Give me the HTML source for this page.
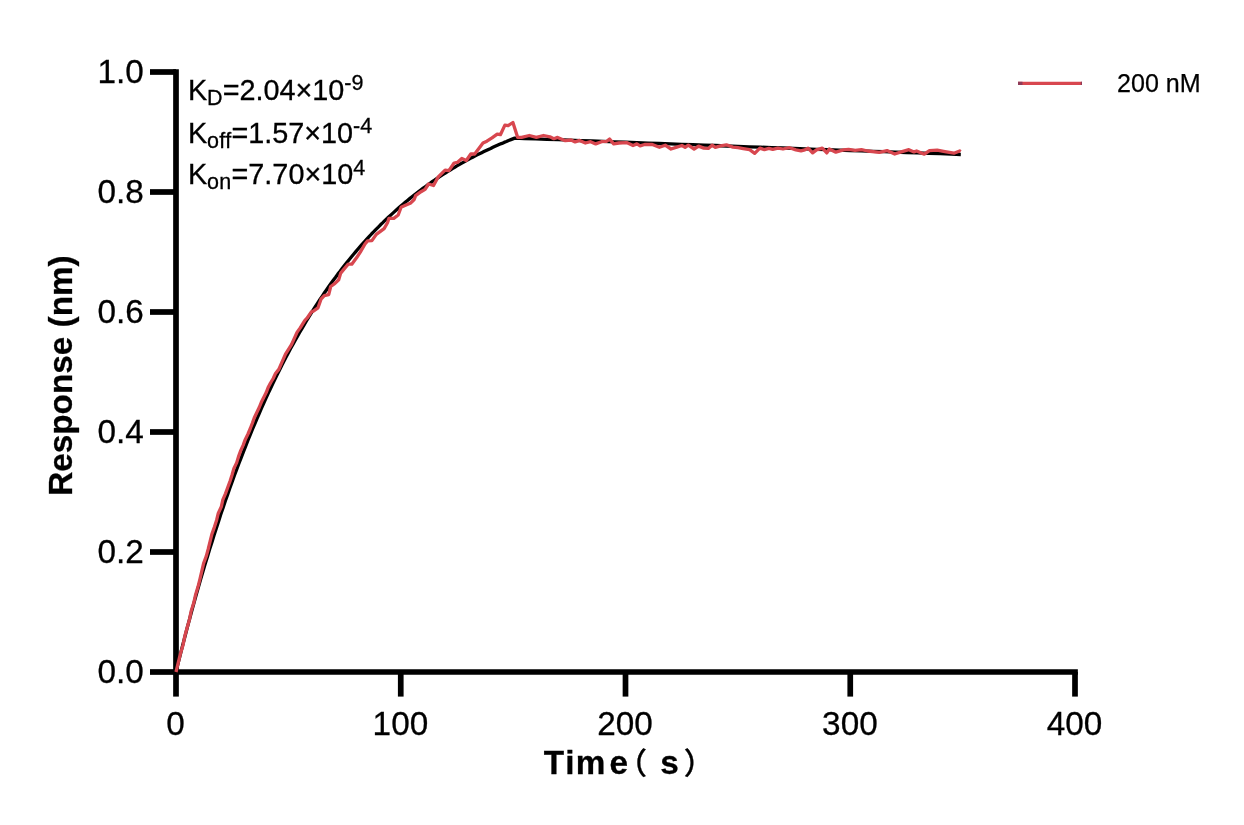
<!DOCTYPE html>
<html lang="en"><head><meta charset="utf-8"><title>Response vs Time</title>
<style>html,body{margin:0;padding:0;background:#fff}svg{display:block}</style></head>
<body>
<svg width="1244" height="825" viewBox="0 0 1244 825">
<rect width="1244" height="825" fill="#fff"/>
<g stroke="#000" stroke-width="5.70" fill="none" stroke-linecap="butt">
<path d="M176.00 69.15 V672.00 H1077.85"/>
<path d="M150 72.00 H176.00"/>
<path d="M150 192.00 H176.00"/>
<path d="M150 312.00 H176.00"/>
<path d="M150 432.00 H176.00"/>
<path d="M150 552.00 H176.00"/>
<path d="M150 672.00 H176.00"/>
<path d="M176.00 672.00 V696.6"/>
<path d="M400.75 672.00 V696.6"/>
<path d="M625.50 672.00 V696.6"/>
<path d="M850.25 672.00 V696.6"/>
<path d="M1075.00 672.00 V696.6"/>
</g>
<path d="M176.0 672.0 L178.2 662.9 L180.5 653.9 L182.7 645.1 L185.0 636.4 L187.2 627.8 L189.5 619.4 L191.7 611.1 L194.0 602.9 L196.2 594.8 L198.5 586.9 L200.7 579.1 L203.0 571.4 L205.2 563.9 L207.5 556.4 L209.7 549.1 L212.0 541.9 L214.2 534.8 L216.5 527.8 L218.7 520.9 L220.9 514.1 L223.2 507.4 L225.4 500.8 L227.7 494.4 L229.9 488.0 L232.2 481.7 L234.4 475.5 L236.7 469.5 L238.9 463.5 L241.2 457.6 L243.4 451.8 L245.7 446.1 L247.9 440.4 L250.2 434.9 L252.4 429.4 L254.7 424.1 L256.9 418.8 L259.2 413.6 L261.4 408.4 L263.7 403.4 L265.9 398.4 L268.1 393.5 L270.4 388.7 L272.6 384.0 L274.9 379.3 L277.1 374.7 L279.4 370.2 L281.6 365.7 L283.9 361.3 L286.1 357.0 L288.4 352.8 L290.6 348.6 L292.9 344.4 L295.1 340.4 L297.4 336.4 L299.6 332.5 L301.9 328.6 L304.1 324.8 L306.4 321.0 L308.6 317.3 L310.9 313.7 L313.1 310.1 L315.3 306.6 L317.6 303.1 L319.8 299.7 L322.1 296.3 L324.3 293.0 L326.6 289.7 L328.8 286.5 L331.1 283.3 L333.3 280.2 L335.6 277.2 L337.8 274.1 L340.1 271.2 L342.3 268.2 L344.6 265.3 L346.8 262.5 L349.1 259.7 L351.3 257.0 L353.6 254.3 L355.8 251.6 L358.0 249.0 L360.3 246.4 L362.5 243.8 L364.8 241.3 L367.0 238.9 L369.3 236.4 L371.5 234.0 L373.8 231.7 L376.0 229.4 L378.3 227.1 L380.5 224.8 L382.8 222.6 L385.0 220.4 L387.3 218.3 L389.5 216.2 L391.8 214.1 L394.0 212.1 L396.3 210.0 L398.5 208.1 L400.8 206.1 L403.0 204.2 L405.2 202.3 L407.5 200.4 L409.7 198.6 L412.0 196.8 L414.2 195.0 L416.5 193.2 L418.7 191.5 L421.0 189.8 L423.2 188.1 L425.5 186.5 L427.7 184.9 L430.0 183.3 L432.2 181.7 L434.5 180.2 L436.7 178.6 L439.0 177.1 L441.2 175.7 L443.5 174.2 L445.7 172.8 L447.9 171.4 L450.2 170.0 L452.4 168.6 L454.7 167.3 L456.9 165.9 L459.2 164.6 L461.4 163.4 L463.7 162.1 L465.9 160.9 L468.2 159.6 L470.4 158.4 L472.7 157.2 L474.9 156.1 L477.2 154.9 L479.4 153.8 L481.7 152.7 L483.9 151.6 L486.2 150.5 L488.4 149.4 L490.7 148.4 L492.9 147.3 L495.1 146.3 L497.4 145.3 L499.6 144.3 L501.9 143.4 L504.1 142.4 L506.4 141.5 L508.6 140.5 L510.9 139.6 L514.7 138.1 L524.4 138.5 L535.6 138.9 L546.8 139.3 L558.1 139.7 L569.3 140.1 L580.5 140.6 L591.8 141.0 L603.0 141.4 L614.3 141.8 L625.5 142.2 L636.7 142.6 L648.0 143.1 L659.2 143.5 L670.5 143.9 L681.7 144.3 L692.9 144.7 L704.2 145.1 L715.4 145.5 L726.6 146.0 L737.9 146.4 L749.1 146.8 L760.4 147.2 L771.6 147.6 L782.8 148.0 L794.1 148.4 L805.3 148.8 L816.5 149.3 L827.8 149.7 L839.0 150.1 L850.2 150.5 L861.5 150.9 L872.7 151.3 L884.0 151.7 L895.2 152.1 L906.4 152.5 L917.7 152.9 L928.9 153.3 L940.1 153.7 L951.4 154.2 L960.8 154.5" fill="none" stroke="#000" stroke-width="3.3" stroke-linejoin="round"/>
<path d="M176.0 672.0 L178.2 662.9 L180.4 653.9 L183.0 645.1 L184.8 636.3 L187.1 627.8 L189.5 619.4 L191.2 610.9 L193.8 602.8 L195.6 594.7 L198.0 586.8 L200.0 578.9 L201.8 571.1 L203.6 563.4 L206.3 556.1 L208.3 548.7 L210.1 541.3 L211.9 534.1 L214.4 527.1 L216.6 520.2 L218.3 513.2 L221.3 506.8 L222.8 499.9 L225.5 493.6 L227.8 487.3 L230.1 481.0 L232.1 474.7 L233.9 468.4 L236.7 462.6 L238.5 456.6 L240.7 450.7 L243.2 445.1 L245.3 439.4 L248.0 434.0 L250.3 428.5 L252.4 423.1 L254.3 417.7 L256.8 412.5 L259.2 407.5 L261.3 402.3 L263.7 397.4 L266.2 392.6 L268.1 387.6 L270.5 383.0 L273.2 378.5 L275.3 373.8 L278.8 369.4 L285.5 354.2 L291.5 344.6 L297.0 332.4 L300.2 327.9 L304.9 320.3 L307.0 318.2 L311.5 311.8 L313.0 311.4 L318.0 307.8 L321.0 299.2 L324.3 295.6 L328.7 294.7 L330.7 286.5 L335.0 283.4 L338.7 279.8 L340.7 273.1 L344.4 268.6 L348.2 264.2 L351.8 264.2 L356.7 257.6 L360.3 252.1 L365.0 244.0 L367.6 240.9 L371.9 240.6 L376.3 234.4 L384.1 228.6 L387.5 222.7 L388.9 218.4 L393.8 218.4 L398.2 215.0 L401.1 207.2 L405.4 205.3 L410.8 202.9 L414.2 199.5 L415.6 195.6 L421.0 191.7 L425.1 189.4 L428.5 184.0 L433.5 185.5 L438.0 177.2 L445.1 170.1 L448.9 170.7 L454.1 163.0 L457.3 162.4 L461.8 158.5 L466.3 160.5 L470.8 154.0 L474.7 154.0 L483.0 143.1 L486.9 141.2 L492.0 137.9 L497.2 134.1 L500.4 134.7 L504.9 125.1 L508.1 125.7 L512.9 122.5 L517.7 137.4 L521.6 137.4 L529.3 135.5 L536.4 137.4 L543.5 135.5 L549.9 136.8 L553.8 138.7 L557.6 137.4 L565.3 140.7 L571.1 140.0 L575.1 141.9 L579.6 140.4 L585.4 143.0 L590.6 141.7 L595.7 143.9 L601.5 141.7 L606.7 141.3 L609.6 139.1 L613.7 143.9 L618.9 143.0 L626.6 142.6 L633.0 145.5 L636.9 143.9 L640.1 145.8 L644.6 144.5 L652.3 144.5 L659.4 147.3 L665.2 145.2 L671.0 149.0 L676.8 147.1 L681.9 145.5 L685.1 147.3 L688.3 145.2 L694.1 149.0 L698.6 146.1 L703.8 148.1 L708.3 148.4 L712.1 145.2 L715.3 147.3 L720.5 145.8 L726.4 144.8 L732.9 147.1 L738.0 147.7 L743.2 148.6 L749.6 149.7 L754.7 153.3 L759.9 148.1 L764.4 149.7 L768.9 148.4 L772.7 149.4 L777.9 148.1 L783.0 149.0 L789.5 147.7 L795.9 149.9 L801.0 150.9 L804.9 149.9 L808.1 148.1 L812.6 152.9 L816.5 149.9 L822.3 148.1 L826.8 152.9 L829.3 149.0 L835.8 152.2 L843.5 149.9 L848.6 149.4 L855.0 150.3 L861.5 149.7 L867.7 151.0 L879.3 152.3 L887.0 150.6 L894.7 154.0 L901.2 151.9 L908.9 149.7 L914.0 151.9 L916.6 151.0 L924.3 154.2 L929.5 150.6 L937.2 150.1 L944.9 151.6 L953.9 153.2 L959.7 151.0 L960.7 151.6" fill="none" stroke="#d8474f" stroke-width="3.3" stroke-linejoin="round"/>
<g font-family="'Liberation Sans', sans-serif" font-size="33.3" fill="#000" stroke="#000" stroke-width="0.3">
<text x="143.9" y="82.5" text-anchor="end">1.0</text>
<text x="143.9" y="202.5" text-anchor="end">0.8</text>
<text x="143.9" y="322.5" text-anchor="end">0.6</text>
<text x="143.9" y="442.5" text-anchor="end">0.4</text>
<text x="143.9" y="562.5" text-anchor="end">0.2</text>
<text x="143.9" y="682.5" text-anchor="end">0.0</text>
<text x="175.6" y="734.6" text-anchor="middle">0</text>
<text x="400.4" y="734.6" text-anchor="middle">100</text>
<text x="625.1" y="734.6" text-anchor="middle">200</text>
<text x="849.9" y="734.6" text-anchor="middle">300</text>
<text x="1074.6" y="734.6" text-anchor="middle">400</text>
</g>
<g font-family="'Liberation Sans', sans-serif" fill="#000" stroke="#000" stroke-width="0.3">
<text x="187.9" y="99.6" font-size="28.8">K<tspan font-size="21.5" dy="5.2" letter-spacing="0">D</tspan><tspan dy="-5.2">=2.04×10</tspan><tspan font-size="21.5" dy="-9.6">-9</tspan></text>
<text x="187.9" y="142.6" font-size="28.8">K<tspan font-size="21.5" dy="5.2" letter-spacing="0.25">off</tspan><tspan dy="-5.2">=1.57×10</tspan><tspan font-size="21.5" dy="-9.6">-4</tspan></text>
<text x="187.9" y="184.1" font-size="28.8">K<tspan font-size="21.5" dy="5.2" letter-spacing="0.25">on</tspan><tspan dy="-5.2">=7.70×10</tspan><tspan font-size="21.5" dy="-9.6">4</tspan></text>
</g>
<path d="M1018 83.4 H1082" stroke="#d8474f" stroke-width="3.1" fill="none"/>
<path d="M1018 83.4 H1022.5 M1080.8 83.4 H1082" stroke="#8f3b58" stroke-width="3.1" fill="none"/>
<text x="1117.0" y="92" font-family="'Liberation Sans', sans-serif" font-size="25.1" fill="#000" stroke="#000" stroke-width="0.25">200 nM</text>
<text transform="translate(71.8 495.8) rotate(-90)" font-family="'Liberation Sans', sans-serif" font-weight="bold" font-size="33.3" fill="#000" stroke="#000" stroke-width="0.3">Response (nm)</text>
<text y="773.7" font-family="'Liberation Sans', 'Noto Sans CJK SC', sans-serif" font-weight="bold" font-size="33.3" fill="#000" stroke="#000" stroke-width="0.3"><tspan x="543.7">T</tspan><tspan x="565.3">i</tspan><tspan x="575.8">m</tspan><tspan x="609.5">e</tspan><tspan x="647" font-family="'Noto Sans CJK SC', sans-serif" font-weight="500" font-size="30" text-anchor="end">（</tspan><tspan x="660.3">s</tspan><tspan x="683.7" font-family="'Noto Sans CJK SC', sans-serif" font-weight="500" font-size="30">）</tspan></text>
</svg>
</body></html>
